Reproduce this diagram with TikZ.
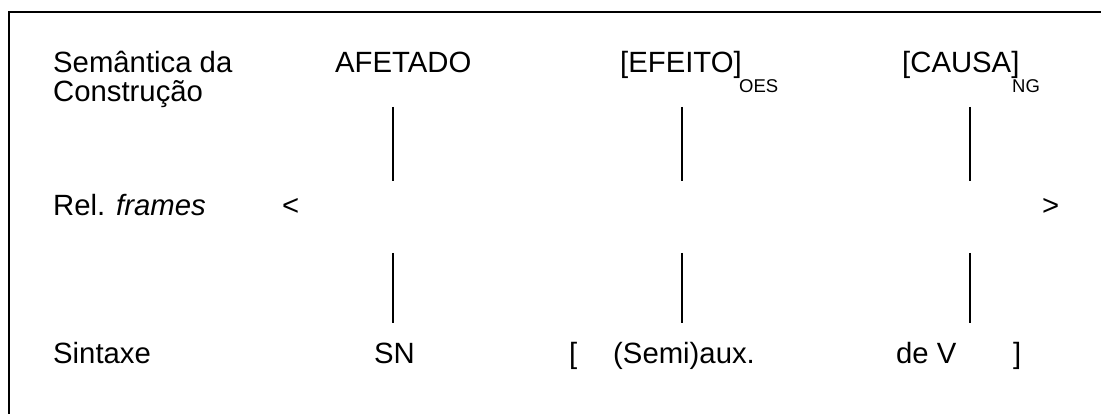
\documentclass[tikz,border=0pt]{standalone}
\usepackage{fontspec}
\setmainfont{Liberation Sans}
\begin{document}
\begin{tikzpicture}[x=1pt,y=-1pt,
  lbl/.style={anchor=base west,inner sep=0pt,font=\fontsize{29.3}{35}\selectfont},
  sub/.style={anchor=base west,inner sep=0pt,font=\fontsize{18.5}{20}\selectfont},
  vline/.style={line width=1.3pt},
  frameline/.style={line width=2pt}]
\useasboundingbox (0,0) rectangle (1101,414);
\draw[frameline] (9,420) -- (9,12) -- (1110,12);
% row 1
\node[lbl] (sem) at (53,73) {Semântica da};
\node[lbl] (con) at (53,102) {Construção};
\node[lbl] (afe) at (335,73) {AFETADO};
\node[lbl] (efe) at (620,73) {[EFEITO]};
\node[sub] (oes) at (739,93) {OES};
\node[lbl] (cau) at (902,73) {[CAUSA]};
\node[sub] (ng) at (1012,93) {NG};
% row 2
\node[lbl] (rel) at (53,216) {Rel. \textit{frames}};
\node[lbl] (lt) at (282,216) {<};
\node[lbl] (gt) at (1042,216) {>};
% row 3
\node[lbl] (sin) at (53,363) {Sintaxe};
\node[lbl] (sn) at (374,363) {SN};
\node[lbl] (lb) at (569,363) {[};
\node[lbl] (semi) at (613,363) {(Semi)aux.};
\node[lbl] (dev) at (896,363) {de V};
\node[lbl] (rb) at (1013,363) {]};
% vertical connectors
\coordinate (a1) at (393,107); \coordinate (a2) at (393,181);
\coordinate (a3) at (393,253); \coordinate (a4) at (393,323);
\coordinate (b1) at (682,107); \coordinate (b2) at (682,181);
\coordinate (b3) at (682,253); \coordinate (b4) at (682,323);
\coordinate (c1) at (970,107); \coordinate (c2) at (970,181);
\coordinate (c3) at (970,253); \coordinate (c4) at (970,323);
\draw[vline] (a1) -- (a2); \draw[vline] (a3) -- (a4);
\draw[vline] (b1) -- (b2); \draw[vline] (b3) -- (b4);
\draw[vline] (c1) -- (c2); \draw[vline] (c3) -- (c4);
\end{tikzpicture}
\end{document}
